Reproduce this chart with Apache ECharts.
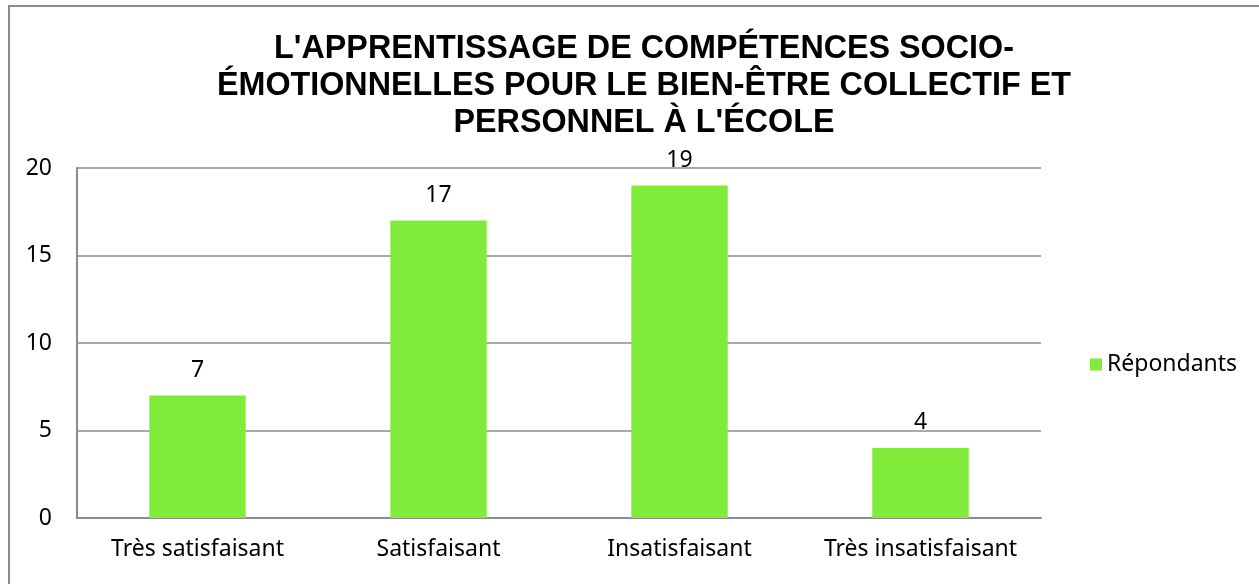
<!DOCTYPE html>
<html>
<head>
<meta charset="utf-8">
<script src="https://cdn.jsdelivr.net/npm/echarts@6/dist/echarts.min.js"></script>
<style>
html, body { margin: 0; padding: 0; background: #fff; }
#main { width: 1259px; height: 584px; }
.frame { position: absolute; left: 8px; top: 5px; width: 1260px; height: 600px; border: 2px solid #8c8c8c; box-sizing: border-box; pointer-events: none; }
</style>
</head>
<body>
<div id="main"></div>
<div class="frame"></div>
<script>
// 数据
const categories = ['Très satisfaisant', 'Satisfaisant', 'Insatisfaisant', 'Très insatisfaisant']
const repondants = [7, 17, 19, 4]
const yTicks = [0, 5, 10, 15, 20]

const chart = echarts.init(document.getElementById('main'))
const labelFont = 'Noto Sans'
const labelSize = 23

chart.setOption({
    animation: false,
    title: {// 标题
        text: "L'APPRENTISSAGE DE COMPÉTENCES SOCIO-\nÉMOTIONNELLES POUR LE BIEN-ÊTRE COLLECTIF ET\nPERSONNEL À L'ÉCOLE",
        left: 639,
        textAlign: 'center',
        top: 26,
        textStyle: {
            fontFamily: 'Liberation Sans',
            fontWeight: 'bold',
            fontSize: 32.3,
            lineHeight: 37,
            color: '#000'
        }
    },
    legend: {// 图例
        orient: 'vertical',
        left: 1085,
        top: 348,
        itemWidth: 12,
        itemHeight: 12,
        itemGap: 5,
        icon: 'rect',
        textStyle: { fontFamily: labelFont, fontSize: labelSize, color: '#000' },
        data: ['Répondants']
    },
    grid: {
        left: 77,
        right: 218,
        top: 168,
        bottom: 66,
        containLabel: false
    },
    xAxis: {
        type: 'category',
        data: categories,
        axisLine: { lineStyle: { color: '#8c8c8c', width: 2 } },
        axisTick: { show: false },
        axisLabel: { interval: 0, fontFamily: labelFont, fontSize: labelSize, color: '#000', margin: 20 }
    },
    yAxis: {
        type: 'value',
        min: yTicks[0],
        max: yTicks[yTicks.length - 1],
        interval: 5,
        axisLine: { show: true, lineStyle: { color: '#8c8c8c', width: 2 } },
        axisTick: { show: false },
        splitLine: { lineStyle: { color: '#8c8c8c', width: 1.5 } },
        axisLabel: { fontFamily: labelFont, fontSize: labelSize, color: '#000', margin: 25 }
    },
    series: [{
        name: 'Répondants',
        type: 'bar',
        data: repondants,
        barCategoryGap: '60%',
        itemStyle: { color: '#80eb3a' },
        label: {
            show: true,
            position: 'top',
            distance: 14,
            fontFamily: labelFont,
            fontSize: labelSize,
            color: '#000'
        }
    }]
})
</script>
</body>
</html>
